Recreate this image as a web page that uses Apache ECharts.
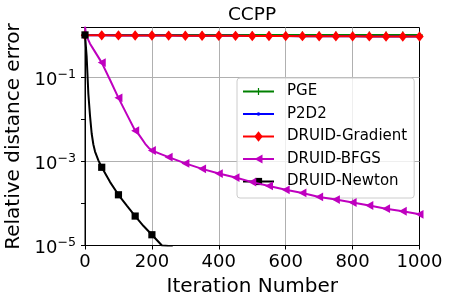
<!DOCTYPE html>
<html><head><meta charset="utf-8">
<script src="https://cdn.jsdelivr.net/npm/echarts@6/dist/echarts.min.js"></script>
<style>html,body{margin:0;padding:0;background:#fff}#c{width:451px;height:301px}</style>
</head><body><div id="c"></div>
<script>
// ---- data ----
const seriesNames = ['PGE', 'P2D2', 'DRUID-Gradient', 'DRUID-BFGS', 'DRUID-Newton'];
const flatIters = [0,50,100,150,200,250,300,350,400,450,500,550,600,650,700,750,800,850,900,950,1000];
const pgeValues = [1.0,1.0,0.999,0.999,0.998,0.998,0.997,0.997,0.996,0.996,0.995,0.995,0.994,0.994,0.993,0.993,0.992,0.992,0.991,0.991,0.99];
const p2d2Values = [0.98,0.977,0.973,0.97,0.966,0.963,0.959,0.956,0.952,0.949,0.945,0.942,0.938,0.935,0.931,0.928,0.925,0.921,0.918,0.914,0.911];
const gradientValues = [0.98,0.977,0.973,0.97,0.966,0.963,0.959,0.956,0.952,0.949,0.945,0.942,0.938,0.935,0.931,0.928,0.925,0.921,0.918,0.914,0.911];
const bfgsIters = [0,3,8,15,25,50,75,100,125,150,160,170,180,190,200,225,250,300,350,400,450,500,550,600,650,700,750,800,850,900,950,1000];
const bfgsValues = [1.6,1.0,0.9,0.62,0.46,0.22,0.085,0.032,0.013,0.0053,0.0044,0.0034,0.0026,0.0021,0.0018,0.0015,0.00125,0.00089,0.00066,0.00051,0.00041,0.00032,0.00026,0.00021,0.000177,0.000142,0.000123,0.000105,0.000089,0.000075,0.000065,0.000055];
const newtonIters = [0,5,10,15,20,25,30,40,50,75,100,125,150,175,200,230,250,260,265];
const newtonValues = [1.0,0.3,0.04,0.012,0.0045,0.0025,0.0017,0.00105,0.00072,0.00032,0.00016,0.000089,0.00005,0.000029,0.000018,0.00001,0.0000097,0.0000093,0.0000001];
const xTicks = [0,200,400,600,800,1000];
const yLabelExponents = [-5,-3,-1];

// ---- chart ----
const FONT = 'DejaVu Sans';
const GRID_GREY = '#b0b0b0';
function pts(xs, ys, every) {
  return xs.map((x, i) => {
    const item = { value: [x, ys[i]] };
    if (x % every !== 0) item.symbol = 'none';
    return item;
  });
}
// marker shapes drawn inside a 12x12 box (same box is used by the legend icon)
const BOX = 'M0,0M12,12';
const markPlus = 'path://' + BOX + 'M5.4,2.5h1.2v2.9h2.9v1.2h-2.9v2.9h-1.2v-2.9h-2.9v-1.2h2.9z';
const markDot = 'path://' + BOX + 'M6,4.2A1.8,1.8 0 1 1 6,7.8A1.8,1.8 0 1 1 6,4.2Z';
const markDiamond = 'path://' + BOX + 'M6,0.8L10.2,6L6,11.2L1.8,6Z';
const markTriLeft = 'path://' + BOX + 'M2,6L10,1.6L10,10.4Z';
const markSquare = 'path://' + BOX + 'M2.4,2.4h7.2v7.2h-7.2z';

const chart = echarts.init(document.getElementById('c'), null, { renderer: 'canvas' });
chart.setOption({
  animation: false,
  backgroundColor: '#fff',
  title: {
    text: 'CCPP', left: 252, textAlign: 'center', top: 6, padding: 0,
    textStyle: { fontFamily: FONT, fontSize: 18.5, fontWeight: 'normal', color: '#000' }
  },
  grid: { left: 85, right: 31.5, top: 27.5, bottom: 55.5, outerBoundsMode: 'none', containLabel: false,
    show: true, borderColor: '#000', borderWidth: 1, backgroundColor: 'transparent' },
  legend: {
    orient: 'vertical', left: 237, top: 78,
    padding: [6, 7, 9, 5],
    itemWidth: 31, itemHeight: 15, itemGap: 7.5,
    backgroundColor: 'rgba(255,255,255,0.8)', borderColor: '#cccccc', borderWidth: 1, borderRadius: 3,
    textStyle: { fontFamily: FONT, fontSize: 15, color: '#000', padding: [0, 0, 0, 8] },
    data: seriesNames
  },
  xAxis: {
    type: 'value', min: xTicks[0], max: xTicks[xTicks.length - 1], interval: xTicks[1] - xTicks[0],
    name: 'Iteration Number', nameLocation: 'middle', nameGap: 29,
    nameTextStyle: { fontFamily: FONT, fontSize: 20, color: '#000' },
    axisLine: { lineStyle: { color: '#000', width: 1 } },
    axisTick: { show: true, length: 4, inside: false, lineStyle: { color: '#000' } },
    axisLabel: { fontFamily: FONT, fontSize: 18, color: '#000', margin: 8, formatter: v => String(v) },
    splitLine: { show: true, lineStyle: { color: ['transparent', GRID_GREY, GRID_GREY, GRID_GREY, GRID_GREY, 'transparent'], width: 1 } }
  },
  yAxis: {
    type: 'log', logBase: 10, min: 1e-5, max: 1.5,
    name: 'Relative distance error', nameLocation: 'middle', nameGap: 57,
    nameTextStyle: { fontFamily: FONT, fontSize: 20, color: '#000' },
    axisLine: { show: true, lineStyle: { color: '#000', width: 1 } },
    axisTick: { show: true, length: 4, inside: false, lineStyle: { color: '#000' } },
    axisLabel: {
      margin: 9, showMinLabel: true, showMaxLabel: true,
      formatter: function (v) {
        const e = Math.log10(v);
        const r = Math.round(e);
        if (Math.abs(e - r) > 0.01 || yLabelExponents.indexOf(r) < 0) return '';
        return '{a|10}{b|\u2212' + Math.abs(r) + '}';
      },
      rich: {
        a: { fontFamily: FONT, fontSize: 18, color: '#000', lineHeight: 18, padding: [6, 0, 0, 0] },
        b: { fontFamily: FONT, fontSize: 12.6, color: '#000', lineHeight: 13, verticalAlign: 'top' }
      }
    },
    splitLine: { show: true, lineStyle: { color: ['transparent', 'transparent', GRID_GREY, 'transparent', GRID_GREY, 'transparent', 'transparent'], width: 1 } }
  },
  series: [
    { name: seriesNames[0], type: 'line', data: pts(flatIters, pgeValues, 50), symbol: markPlus, symbolSize: 12,
      lineStyle: { color: '#008000', width: 2 }, itemStyle: { color: '#008000' }, clip: true, z: 2 },
    { name: seriesNames[1], type: 'line', data: pts(flatIters, p2d2Values, 50), symbol: markDot, symbolSize: 12,
      lineStyle: { color: '#0000ff', width: 2 }, itemStyle: { color: '#0000ff' }, clip: true, z: 3 },
    { name: seriesNames[2], type: 'line', data: pts(flatIters, gradientValues, 50), symbol: markDiamond, symbolSize: 12,
      lineStyle: { color: '#ff0000', width: 2 }, itemStyle: { color: '#ff0000' }, clip: true, z: 4 },
    { name: seriesNames[3], type: 'line', data: pts(bfgsIters, bfgsValues, 50), symbol: markTriLeft, symbolSize: 12,
      lineStyle: { color: '#bf00bf', width: 2 }, itemStyle: { color: '#bf00bf' }, clip: true, z: 5 },
    { name: seriesNames[4], type: 'line', data: pts(newtonIters, newtonValues, 50), symbol: markSquare, symbolSize: 12,
      lineStyle: { color: '#000000', width: 2 }, itemStyle: { color: '#000000' }, clip: true, z: 6 }
  ]
});
</script></body></html>
